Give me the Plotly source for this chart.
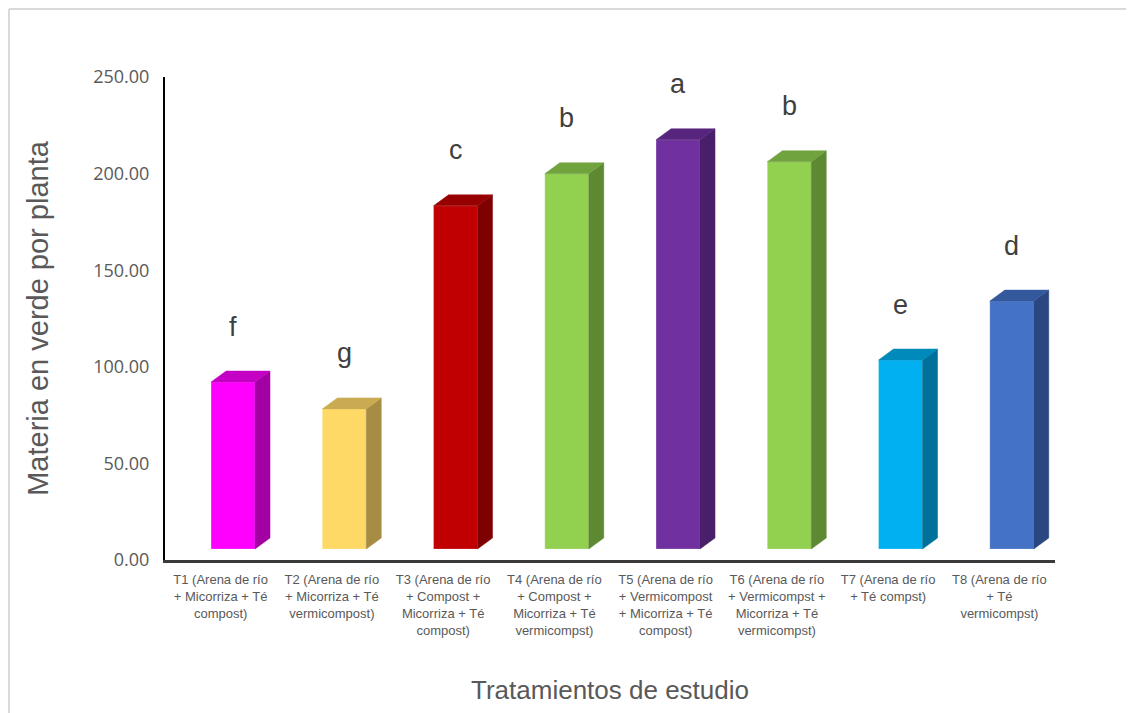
import plotly.graph_objects as go

# ---- data ----
categories = [
    "T1 (Arena de río<br>+ Micorriza + Té<br>compost)",
    "T2 (Arena de río<br>+ Micorriza + Té<br>vermicompost)",
    "T3 (Arena de río<br>+ Compost +<br>Micorriza + Té<br>compost)",
    "T4 (Arena de río<br>+ Compost +<br>Micorriza + Té<br>vermicompst)",
    "T5 (Arena de río<br>+ Vermicompost<br>+ Micorriza + Té<br>compost)",
    "T6 (Arena de río<br>+ Vermicompst +<br>Micorriza + Té<br>vermicompst)",
    "T7 (Arena de río<br>+ Té compst)",
    "T8 (Arena de río<br>+ Té<br>vermicompst)",
]
values = [86.4, 72.5, 177.6, 194.2, 211.8, 200.4, 97.8, 128.3]
letters = ["f", "g", "c", "b", "a", "b", "e", "d"]
y_ticks = [0, 50, 100, 150, 200, 250]

# ---- styles ----
front_colors = ["#FF00FF", "#FFD966", "#C00000", "#92D050", "#7030A0", "#92D050", "#00B0F0", "#4472C4"]
top_colors = ["#C400C4", "#C9AC52", "#960000", "#70A33D", "#57257D", "#70A33D", "#0089BB", "#33589B"]
side_colors = ["#A300A3", "#A68D43", "#7E0000", "#5E8933", "#491F69", "#5E8933", "#00719B", "#2A4781"]

BAR_OFFSET = -0.086   # front face left edge relative to category
BAR_WIDTH = 0.395
DX = 0.135            # depth offset (category units)
DY = 5.7              # depth offset (value units)
BASE = 5.7            # floor height of front face

W, H = 1134, 713
ML, MR, MT, MB = 157, 87, 69, 161
PW, PH = W - ML - MR, H - MT - MB

x_pos = list(range(len(categories)))

fig = go.Figure()

# front faces
fig.add_trace(go.Bar(
    x=x_pos, y=values, base=[BASE] * len(values),
    offset=BAR_OFFSET, width=BAR_WIDTH,
    marker=dict(color=front_colors, line=dict(color="rgba(255,255,255,0.35)", width=0.6)),
    hoverinfo="skip", showlegend=False,
))

# side and top faces
for i, v in enumerate(values):
    x0 = x_pos[i] + BAR_OFFSET
    x1 = x0 + BAR_WIDTH
    top = BASE + v
    fig.add_trace(go.Scatter(
        x=[x1, x1 + DX, x1 + DX, x1, x1],
        y=[BASE, BASE + DY, top + DY, top, BASE],
        mode="lines", fill="toself", fillcolor=side_colors[i],
        line=dict(color=side_colors[i], width=0.5),
        hoverinfo="skip", showlegend=False,
    ))
    fig.add_trace(go.Scatter(
        x=[x0, x1, x1 + DX, x0 + DX, x0],
        y=[top, top, top + DY, top + DY, top],
        mode="lines", fill="toself", fillcolor=top_colors[i],
        line=dict(color=top_colors[i], width=0.5),
        hoverinfo="skip", showlegend=False,
    ))

# significance letters
for i, v in enumerate(values):
    fig.add_annotation(
        x=x_pos[i] + BAR_OFFSET + BAR_WIDTH / 2, y=BASE + v + DY + 23,
        text=letters[i], showarrow=False, yanchor="middle",
        font=dict(family="Liberation Sans, Arial, sans-serif", size=27, color="#404040"),
    )

# outer border (top and left), in figure pixels converted to paper coords
def px(x):
    return (x - ML) / PW

def py(y):
    return (H - MB - y) / PH

fig.add_shape(type="line", xref="paper", yref="paper",
              x0=px(1), x1=px(W), y0=py(1), y1=py(1),
              line=dict(color="#D9D9D9", width=2))
fig.add_shape(type="line", xref="paper", yref="paper",
              x0=px(1), x1=px(1), y0=py(1), y1=py(H),
              line=dict(color="#D9D9D9", width=2))

fig.update_layout(
    width=W, height=H,
    margin=dict(l=ML, r=MR, t=MT, b=MB, autoexpand=False),
    paper_bgcolor="white", plot_bgcolor="white",
    showlegend=False,
    xaxis=dict(
        range=[-0.5, 7.5], tickmode="array", tickvals=x_pos, ticktext=categories,
        tickangle=0, automargin=False,
        showgrid=False, zeroline=False, showline=True, linecolor="#3A3A3A", linewidth=2.5,
        ticks="", ticklabelstandoff=6,
        tickfont=dict(family="Liberation Sans, Arial, sans-serif", size=13, color="#595959"),
        title=dict(text="Tratamientos de estudio", standoff=44,
                   font=dict(family="Liberation Sans, Arial, sans-serif", size=26, color="#595959")),
        fixedrange=True,
    ),
    yaxis=dict(
        range=[0, 250], tickmode="array", tickvals=y_ticks,
        ticktext=[f"{t:.2f}" for t in y_ticks], automargin=False,
        showgrid=False, zeroline=False, showline=True, linecolor="#000000", linewidth=2,
        ticks="", ticklabelstandoff=10,
        tickfont=dict(family="Open Sans, sans-serif", size=18, color="#595959"),
        title=dict(text="Materia en verde por planta", standoff=36,
                   font=dict(family="Liberation Sans, Arial, sans-serif", size=29, color="#595959")),
        fixedrange=True,
    ),
)

fig.write_html("out.html")
